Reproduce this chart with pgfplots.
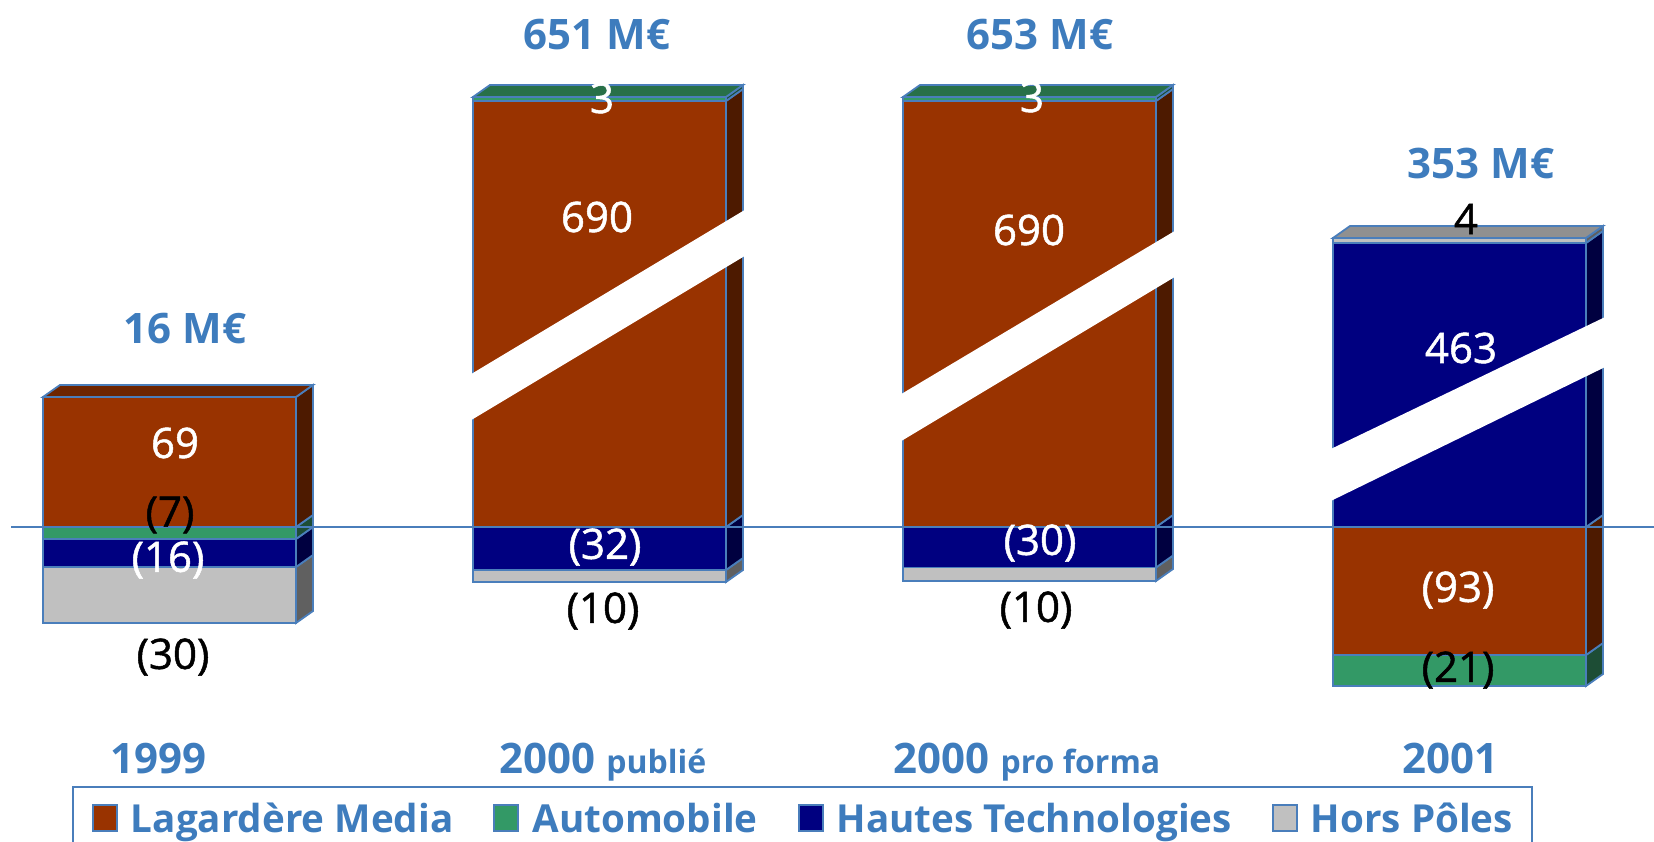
\documentclass[border=0pt]{standalone}
\usepackage{fontspec}
\setmainfont{Open Sans}
\newfontface\medfont{Open Sans}[FakeBold=1.2]
\usepackage{pgfplots}
\pgfplotsset{compat=1.18}
\definecolor{lag}{HTML}{993300}
\definecolor{lagside}{HTML}{4D1A00}
\definecolor{lagtop}{HTML}{6E2500}
\definecolor{auto}{HTML}{339966}
\definecolor{autoside}{HTML}{1D4D35}
\definecolor{autotop}{HTML}{287048}
\definecolor{ht}{HTML}{000080}
\definecolor{htside}{HTML}{000040}
\definecolor{hp}{HTML}{C0C0C0}
\definecolor{hpside}{HTML}{606060}
\definecolor{hptop}{HTML}{909090}
\definecolor{edge}{HTML}{4A7EBB}
\definecolor{txtblue}{HTML}{3E7CBD}
\newcommand\lw{0.9pt}
% segment: x-left, bottom, top, front colour, side colour (heights as drawn, broken scale)
\newcommand\seg[5]{%
  \pgfmathsetmacro\xa{#1}\pgfmathsetmacro\xb{#1+253}\pgfmathsetmacro\xc{#1+270}%
  \pgfmathsetmacro\ya{#2}\pgfmathsetmacro\yb{#3}\pgfmathsetmacro\yc{#2+12}\pgfmathsetmacro\yd{#3+12}%
  \edef\tmp{\noexpand\addplot[forget plot,fill=#4,draw=edge,line width=\lw] coordinates {(\xa,\ya) (\xb,\ya) (\xb,\yb) (\xa,\yb)} -- cycle;
  \noexpand\addplot[forget plot,fill=#5,draw=edge,line width=\lw] coordinates {(\xb,\ya) (\xc,\yc) (\xc,\yd) (\xb,\yb)} -- cycle;}\tmp}
\newcommand\topf[3]{%
  \pgfmathsetmacro\xa{#1}\pgfmathsetmacro\xb{#1+253}\pgfmathsetmacro\xc{#1+270}\pgfmathsetmacro\xd{#1+17}%
  \pgfmathsetmacro\ya{#2}\pgfmathsetmacro\yc{#2+12}%
  \edef\tmp{\noexpand\addplot[forget plot,fill=#3,draw=edge,line width=\lw] coordinates {(\xa,\ya) (\xd,\yc) (\xc,\yc) (\xb,\ya)} -- cycle;}\tmp}
\tikzset{
  lblw/.style={font=\medfont\fontsize{21}{25}\selectfont, text=white, inner sep=0pt},
  lblk/.style={font=\medfont\fontsize{21}{25}\selectfont, text=black, inner sep=0pt},
  tot/.style={font=\fontsize{21}{25}\selectfont\bfseries, text=txtblue, inner sep=0pt}}
\begin{document}
\begin{tikzpicture}
\useasboundingbox (0,0) rectangle (827pt,420.5pt);
\clip (0,0) rectangle (827pt,420.5pt);
\begin{axis}[at={(0pt,0pt)}, anchor=south west, scale only axis,
  width=827pt, height=420.5pt,
  xmin=0, xmax=1654, ymin=-314, ymax=527,
  axis line style={draw=none}, ytick=\empty, major tick length=0pt,
  xtick={158,603,1027,1450},
  xticklabels={1999, 2000 {\fontsize{16}{19}\selectfont publié}, 2000 {\fontsize{16}{19}\selectfont pro forma}, 2001},
  xticklabel style={anchor=base, yshift=34pt, font=\fontsize{21}{25}\selectfont\bfseries, text=txtblue},
  clip=false,
  legend columns=4, legend cell align=left,
  legend style={at={(axis cs:71.7,-259)}, anchor=north west, draw=edge, line width=1.2pt, fill=white,
    inner xsep=9.5pt, inner ysep=8pt, font=\fontsize{19.3}{23}\selectfont\bfseries, text=txtblue,
    nodes={inner sep=0pt},
    /tikz/every odd column/.append style={column sep=6.5pt},
    /tikz/every even column/.append style={column sep=20pt}},
  legend image code/.code={\draw[#1, line width=1pt] (0pt,-6pt) rectangle (12pt,7pt);}
]
\addlegendimage{fill=lag, draw=edge}\addlegendentry{Lagardère Media}
\addlegendimage{fill=auto, draw=edge}\addlegendentry{Automobile}
\addlegendimage{fill=ht, draw=edge}\addlegendentry{Hautes Technologies}
\addlegendimage{fill=hp, draw=edge}\addlegendentry{Hors Pôles}
% 1999
\seg{43}{-96}{-40}{hp}{hpside}
\seg{43}{-40}{-12}{ht}{htside}
\seg{43}{-12}{0}{auto}{autoside}
\seg{43}{0}{130}{lag}{lagside}
\topf{43}{130}{lagtop}
% 2000 publie
\seg{473}{-55}{-43}{hp}{hpside}
\seg{473}{-43}{0}{ht}{htside}
\seg{473}{0}{426}{lag}{lagside}
\seg{473}{426}{430}{auto}{autoside}
\topf{473}{430}{autotop}
\addplot[forget plot, fill=white, draw=none] coordinates {(470,152.2) (747,318.4) (747,272.4) (470,106.2)} -- cycle;
% 2000 pro forma
\seg{903}{-54}{-40.5}{hp}{hpside}
\seg{903}{-40.5}{0}{ht}{htside}
\seg{903}{0}{426}{lag}{lagside}
\seg{903}{426}{430}{auto}{autoside}
\topf{903}{430}{autotop}
\addplot[forget plot, fill=white, draw=none] coordinates {(900,132.2) (1176,296.8) (1176,250.8) (900,85.2)} -- cycle;
% 2001
\seg{1333}{-159}{-128}{auto}{autoside}
\seg{1333}{-128}{0}{lag}{lagside}
\seg{1333}{0}{284}{ht}{htside}
\seg{1333}{284}{289}{hp}{hpside}
\topf{1333}{289}{hptop}
\addplot[forget plot, fill=white, draw=none] coordinates {(1330,77.6) (1606,210.4) (1606,160.4) (1330,25.6)} -- cycle;
% baseline
\addplot[forget plot, draw=edge, line width=1.2pt] coordinates {(11,0) (1654,0)};
% totals
\node[tot] at (axis cs:185,198) {16 M€};
\node[tot] at (axis cs:597,492) {651 M€};
\node[tot] at (axis cs:1040,492) {653 M€};
\node[tot] at (axis cs:1481,363) {353 M€};
% segment labels
\node[lblw] at (axis cs:175,84) {69};
\node[lblk] at (axis cs:170,12) {(7)};
\node[lblw] at (axis cs:168,-33) {(16)};
\node[lblk] at (axis cs:173,-130) {(30)};
\node[lblw] at (axis cs:602,429) {3};
\node[lblw] at (axis cs:597,310) {690};
\node[lblw] at (axis cs:605,-20) {(32)};
\node[lblk] at (axis cs:603,-84) {(10)};
\node[lblw] at (axis cs:1032,430) {3};
\node[lblw] at (axis cs:1029,297) {690};
\node[lblw] at (axis cs:1040,-16) {(30)};
\node[lblk] at (axis cs:1036,-83) {(10)};
\node[lblk] at (axis cs:1466,308) {4};
\node[lblw] at (axis cs:1461,179) {463};
\node[lblw] at (axis cs:1458,-63) {(93)};
\node[lblk] at (axis cs:1458,-143) {(21)};
\end{axis}
\end{tikzpicture}
\end{document}
